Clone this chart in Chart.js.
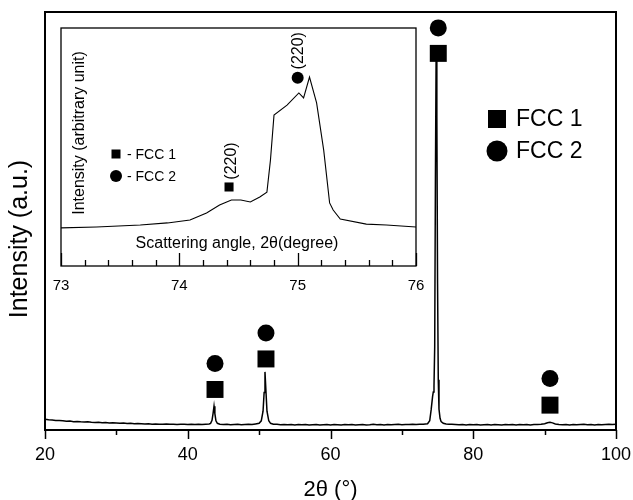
<!DOCTYPE html>
<html><head><meta charset="utf-8">
<script src="https://cdn.jsdelivr.net/npm/chart.js@4.4.1/dist/chart.umd.min.js"></script>
<style>
html,body{margin:0;padding:0;background:#fff;}
#wrap{position:relative;width:633px;height:500px;background:#fff;}
#main{position:absolute;left:0;top:0;}
#inset{position:absolute;left:50px;top:18px;}
</style></head><body>
<div id="wrap"><canvas id="main" width="633" height="500"></canvas><canvas id="inset" width="380" height="285"></canvas></div>
<script>
// ---- main pattern (2θ in degrees, intensity in arbitrary units) ----
const angle = [20,20.5,21,21.5,22,22.5,23,23.5,24,24.5,25,25.5,26,26.5,27,27.5,28,28.5,29,29.5,30,30.5,31,31.5,32,32.5,33,33.5,34,34.5,35,35.5,36,36.5,37,37.5,38,38.5,39,39.5,40,40.5,41,41.5,42,42.5,43,
43.2,43.4,43.55,43.68,43.8,43.95,44.15,44.5,45,45.5,46,46.5,47,47.5,48,48.5,49,49.5,50,50.3,50.55,50.7,50.82,50.95,51.1,51.35,51.6,52,52.5,
53,53.5,54,54.5,55,55.5,56,56.5,57,57.5,58,58.5,59,59.5,60,60.5,61,61.5,62,62.5,63,63.5,64,64.5,65,65.5,66,66.5,67,67.5,68,68.5,69,69.5,70,70.5,71,71.5,72,72.5,73,73.3,73.6,73.9,
74.1,74.3,74.4,74.5,74.6,74.7,74.8,74.9,75.0,75.1,75.2,75.35,75.5,75.8,76.2,76.6,77,
77.5,78,78.5,79,79.5,80,80.5,81,81.5,82,82.5,83,83.5,84,84.5,85,85.5,86,86.5,87,87.5,88,88.5,89,89.5,90,90.4,90.75,91.1,91.5,92,92.5,93,93.5,94,94.5,95,95.5,96,96.5,97,97.5,98,98.5,99,99.5,100];
const intensity = [2.6,2.45,2.4,2.3,2.25,2.2,2.1,2.15,2.0,2.05,1.95,1.9,1.95,1.85,1.8,1.85,1.75,1.8,1.7,1.75,1.7,1.6,1.65,1.55,1.6,1.5,1.55,1.5,1.45,1.5,1.4,1.45,1.4,1.35,1.45,1.35,1.4,1.3,1.4,1.35,1.3,1.4,1.3,1.35,1.3,1.4,1.45,
1.6,2.3,4.0,5.7,3.9,2.2,1.6,1.4,1.3,1.35,1.25,1.3,1.35,1.25,1.3,1.35,1.3,1.45,1.6,2.2,4.5,9.0,13.9,9.5,4.5,2.2,1.6,1.4,1.35,
1.25,1.3,1.25,1.3,1.2,1.3,1.25,1.3,1.2,1.25,1.3,1.2,1.25,1.3,1.2,1.3,1.25,1.2,1.3,1.25,1.3,1.2,1.25,1.3,1.2,1.25,1.35,1.25,1.3,1.2,1.3,1.25,1.3,1.35,1.25,1.3,1.3,1.35,1.3,1.4,1.4,1.45,1.5,2.2,
4.8,8.0,9.1,10.5,20,60,90,75,35,12,5,2.8,2.0,1.6,1.45,1.4,1.35,
1.3,1.25,1.3,1.2,1.3,1.25,1.3,1.2,1.25,1.3,1.2,1.3,1.25,1.2,1.3,1.25,1.3,1.2,1.3,1.25,1.3,1.2,1.3,1.3,1.35,1.5,1.75,1.85,1.7,1.45,1.3,1.25,1.3,1.2,1.3,1.25,1.3,1.35,1.25,1.3,1.2,1.3,1.25,1.3,1.35,1.3,1.35];

// peak markers above the reflections
const fcc1Angle = [43.82, 50.96, 75.1, 90.75];
const fcc1Mark  = [9.7, 17.0, 90.1, 5.95];
const fcc2Angle = [43.82, 50.96, 75.1, 90.75];
const fcc2Mark  = [15.9, 23.2, 96.2, 12.3];
const seriesNames = ['FCC 1', 'FCC 2'];

// ---- inset: zoom on the (220) reflection ----
const insetAngle = [73.0,73.3,73.67,73.9,74.09,74.23,74.34,74.44,74.52,74.6,74.68,74.74,74.77,74.8,74.91,75.01,75.05,75.1,75.16,75.22,75.27,75.3,75.36,75.58,75.75,76.0];
const insetIntensity = [16.0,16.4,17.2,18.1,19.3,22.3,25.6,27.7,27.7,26.9,29.0,31.0,44.5,63.4,67.6,72.7,70.6,79.4,68.5,48.7,26.5,23.5,19.7,17.6,17.2,16.4];
const insetFcc1Angle = [74.42];
const insetFcc1Mark = [33.2];
const insetFcc2Angle = [75.0];
const insetFcc2Mark = [79.1];
const insetLabel = '(220)';

const FONT = "'Liberation Sans', Arial, Helvetica, sans-serif";
Chart.defaults.font.family = FONT;
Chart.defaults.color = '#000';

function pts(xs, ys){ return xs.map((x,i)=>({x:x, y:ys[i]})); }

function drawSquare(ctx, x, y, s){ ctx.fillRect(x - s/2, y - s/2, s, s); }
function drawCircle(ctx, x, y, r){ ctx.beginPath(); ctx.arc(x, y, r, 0, Math.PI*2); ctx.fill(); }

const mainDecor = {
  id: 'mainDecor',
  afterDraw(chart){
    const {ctx, chartArea: a, scales} = chart;
    const xs = scales.x;
    ctx.save();
    ctx.strokeStyle = '#000';
    ctx.lineWidth = 2;
    ctx.strokeRect(a.left, a.top, a.right - a.left, a.bottom - a.top);
    // outward ticks
    ctx.lineWidth = 1.5;
    for (let v = xs.min; v <= xs.max; v += 10){
      const px = Math.round(xs.getPixelForValue(v)) + 0.5;
      const len = (v % 20 === 0) ? 9 : 5;
      ctx.beginPath(); ctx.moveTo(px, a.bottom); ctx.lineTo(px, a.bottom + len); ctx.stroke();
    }
    ctx.fillStyle = '#000';
    ctx.textAlign = 'center';
    ctx.textBaseline = 'middle';
    // x axis title
    ctx.font = '22px ' + FONT;
    ctx.fillText('2θ (°)', (a.left + a.right) / 2, 490);
    // y axis title
    ctx.save();
    ctx.font = '25px ' + FONT;
    ctx.translate(20, 239);
    ctx.rotate(-Math.PI/2);
    ctx.fillText('Intensity (a.u.)', 0, 0);
    ctx.restore();
    // legend
    ctx.font = '23px ' + FONT;
    ctx.textAlign = 'left';
    drawSquare(ctx, 497, 119, 18);
    ctx.fillText(seriesNames[0], 516, 120);
    drawCircle(ctx, 497, 151, 10.5);
    ctx.fillText(seriesNames[1], 516, 152);
    ctx.restore();
  }
};

new Chart(document.getElementById('main'), {
  type: 'scatter',
  data: { datasets: [
    { label: 'pattern', data: pts(angle, intensity), showLine: true, borderColor: '#000', borderWidth: 1.5, pointRadius: 0, tension: 0 },
    { label: seriesNames[0], data: pts(fcc1Angle, fcc1Mark), pointStyle: 'rect', pointRadius: 12, backgroundColor: '#000', borderWidth: 0 },
    { label: seriesNames[1], data: pts(fcc2Angle, fcc2Mark), pointStyle: 'circle', pointRadius: 8.5, backgroundColor: '#000', borderWidth: 0 }
  ]},
  options: {
    responsive: false, animation: false, devicePixelRatio: 1,
    layout: { padding: { left: 0, right: 17, top: 10, bottom: 0 } },
    plugins: { legend: { display: false }, tooltip: { enabled: false } },
    scales: {
      x: {
        type: 'linear', min: 20, max: 100,
        grid: { display: false, drawTicks: false },
        border: { display: false },
        ticks: { stepSize: 20, padding: 14, font: { size: 18 }, color: '#000', maxRotation: 0 },
        afterFit(s){ s.height = 70; s.paddingLeft = 0; s.paddingRight = 0; }
      },
      y: {
        min: 0, max: 100,
        grid: { display: false, drawTicks: false },
        border: { display: false },
        ticks: { display: false },
        afterFit(s){ s.width = 45; s.paddingTop = 0; s.paddingBottom = 0; }
      }
    }
  },
  plugins: [mainDecor]
});

const insetDecor = {
  id: 'insetDecor',
  afterDraw(chart){
    const {ctx, chartArea: a, scales} = chart;
    const xs = scales.x, ys = scales.y;
    ctx.save();
    ctx.strokeStyle = '#000';
    ctx.lineWidth = 1.3;
    ctx.strokeRect(a.left, a.top, a.right - a.left, a.bottom - a.top);
    // inward ticks every 0.2
    for (let i = 0; i <= 15; i++){
      const v = xs.min + i * 0.2;
      const px = Math.round(xs.getPixelForValue(v)) + 0.5;
      const len = (i % 5 === 0) ? 13 : 6;
      ctx.beginPath(); ctx.moveTo(px, a.bottom); ctx.lineTo(px, a.bottom - len); ctx.stroke();
    }
    ctx.fillStyle = '#000';
    ctx.textBaseline = 'middle';
    // axis titles inside the frame
    ctx.font = '16px ' + FONT;
    ctx.textAlign = 'center';
    ctx.fillText('Scattering angle, 2θ(degree)', 187, a.bottom - 22);
    ctx.save();
    ctx.translate(30, 115);
    ctx.rotate(-Math.PI/2);
    ctx.fillText('Intensity (arbitrary unit)', 0, 0);
    ctx.restore();
    // reflection labels
    const lab = (ax, ay, dx, dy) => {
      ctx.save();
      ctx.translate(xs.getPixelForValue(ax) + dx, ys.getPixelForValue(ay) + dy);
      ctx.rotate(-Math.PI/2);
      ctx.fillText(insetLabel, 0, 0);
      ctx.restore();
    };
    lab(insetFcc1Angle[0], insetFcc1Mark[0], 3, -26);
    lab(insetFcc2Angle[0], insetFcc2Mark[0], 1, -27);
    // legend
    ctx.textAlign = 'left';
    ctx.font = '14px ' + FONT;
    drawSquare(ctx, 66, 136, 9);
    ctx.fillText('- ' + seriesNames[0], 77, 137);
    drawCircle(ctx, 66, 158, 6);
    ctx.fillText('- ' + seriesNames[1], 77, 159);
    ctx.restore();
  }
};

new Chart(document.getElementById('inset'), {
  type: 'scatter',
  data: { datasets: [
    { label: 'zoom', data: pts(insetAngle, insetIntensity), showLine: true, borderColor: '#000', borderWidth: 1.1, pointRadius: 0, tension: 0 },
    { label: seriesNames[0], data: pts(insetFcc1Angle, insetFcc1Mark), pointStyle: 'rect', pointRadius: 6.4, backgroundColor: '#000', borderWidth: 0 },
    { label: seriesNames[1], data: pts(insetFcc2Angle, insetFcc2Mark), pointStyle: 'circle', pointRadius: 6, backgroundColor: '#000', borderWidth: 0 }
  ]},
  options: {
    responsive: false, animation: false, devicePixelRatio: 1,
    layout: { padding: { left: 11, right: 14, top: 10, bottom: 0 } },
    plugins: { legend: { display: false }, tooltip: { enabled: false } },
    scales: {
      x: {
        type: 'linear', min: 73, max: 76,
        grid: { display: false, drawTicks: false },
        border: { display: false },
        ticks: { stepSize: 1, padding: 11, font: { size: 15 }, color: '#000', maxRotation: 0 },
        afterFit(s){ s.height = 37; s.paddingLeft = 0; s.paddingRight = 0; }
      },
      y: { display: false, min: 0, max: 100 }
    }
  },
  plugins: [insetDecor]
});
</script>
</body></html>
